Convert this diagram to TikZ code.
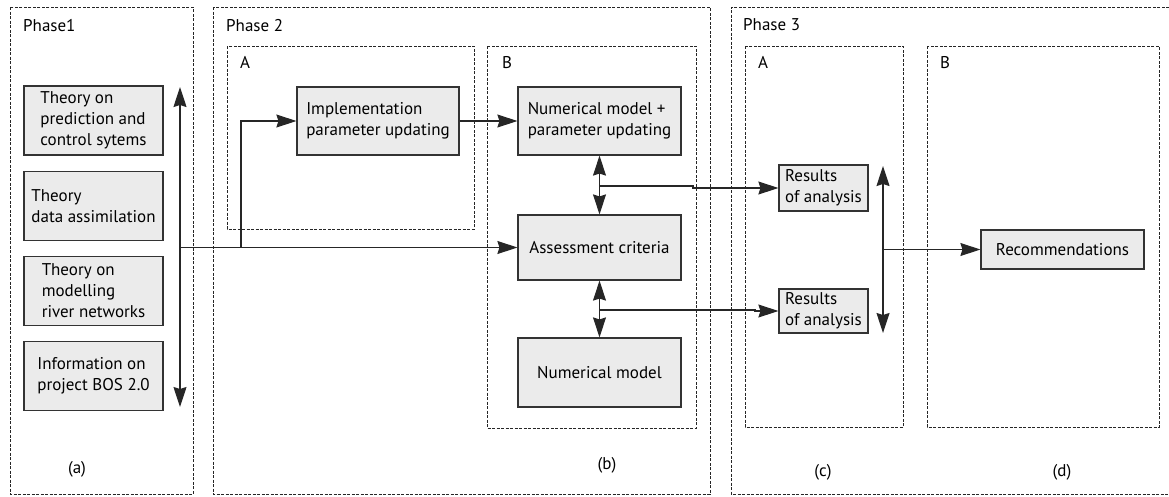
\documentclass[tikz,border=0pt]{standalone}
\usepackage{fontspec}
\setmainfont{PT Sans}
\usetikzlibrary{arrows.meta,positioning}
\tikzstyle{block}=[draw=black!80,fill=black!8,line width=1.2pt,inner sep=0pt,align=left,font=\fontsize{17}{21}\selectfont]
\tikzstyle{frame}=[draw=black!85,line width=0.8pt,dash pattern=on 3pt off 1.5pt]
\tikzstyle{link}=[draw=black!85,line width=1.1pt,-{Stealth[length=20pt,width=13pt,inset=2pt]}]
\tikzstyle{both}=[link,{Stealth[length=20pt,width=13pt,inset=2pt]}-{Stealth[length=20pt,width=13pt,inset=2pt]}]
\tikzstyle{tag}=[anchor=base west,inner sep=0pt,font=\fontsize{17}{20}\selectfont]
\tikzstyle{sub}=[inner sep=0pt,font=\fontsize{17}{20}\selectfont]

\begin{document}
\begin{tikzpicture}[x=1pt,y=-1pt]
\useasboundingbox (0,0) rectangle (1169,496);
% dashed frames
\draw[frame] (10,7) rectangle (193,494);
\draw[frame] (213,7) rectangle (710,494);
\draw[frame] (1169,7) -| (731,494) -- (1169,494);
\draw[frame] (227,46) rectangle (474,229);
\draw[frame] (487,46) rectangle (696,428);
\draw[frame] (745,46) rectangle (903,427);
\draw[frame] (927,46) rectangle (1159,427);
\node[tag] (ph1) at (23,31) {Phase1};
\node[tag] (ph2) at (226,31) {Phase 2};
\node[tag] (ph3) at (743,30) {Phase 3};
\node[tag] (ph2a) at (240,68) {A};
\node[tag] (ph2b) at (502,68) {B};
\node[tag] (ph3a) at (758,68) {A};
\node[tag] (ph3b) at (940,68) {B};
\node[sub] (la) at (77,469) {(a)};
\node[sub] (lb) at (607,465) {(b)};
\node[sub] (lc) at (823,472) {(c)};
\node[sub] (ld) at (1062,472) {(d)};

% phase 1
\node[block,minimum width=139pt,minimum height=69pt] (pred) at (93.5,120.5) {Theory on\\prediction and\\control sytems};
\node[block,minimum width=139pt,minimum height=69pt,below=15pt of pred] (assim) {Theory\\data assimilation};
\node[block,minimum width=139pt,minimum height=69pt,below=15pt of assim] (river) {Theory on\\modelling\\river networks};
\node[block,minimum width=139pt,minimum height=69pt,below=15pt of river] (bos) {Information on\\project BOS 2.0};
\coordinate (top1) at (180,87);
\coordinate (bot1) at (180,407);
\coordinate (hub1) at (180,247.5);
\coordinate (split) at (241,247.5);
\draw[both] (top1) -- (bot1);

% phase 2
\node[block,minimum width=162pt,minimum height=68pt] (impl) at (378,121) {Implementation\\parameter updating};
\node[block,minimum width=163pt,minimum height=68pt] (numup) at (599.5,121) {Numerical model +\\parameter updating};
\node[block,minimum width=163pt,minimum height=65pt] (crit) at (599.5,247.5) {Assessment criteria};
\node[block,minimum width=163pt,minimum height=69pt] (num) at (599.5,372.5) {Numerical model};
\draw[link] (hub1) -- (crit);
\draw[link] (split) |- (impl);
\draw[link] (impl) -- (numup);
\draw[both] (numup) -- (crit);
\draw[both] (crit) -- (num);
\coordinate (t1) at (600,186);
\coordinate (t2) at (600,310);

% phase 3
\node[block,minimum width=89pt,minimum height=46pt] (res1) at (823.5,188) {Results\\of analysis};
\node[block,minimum width=89pt,minimum height=44pt] (res2) at (823.5,311) {Results\\of analysis};
\node[block,minimum width=163pt,minimum height=39pt] (rec) at (1062.5,249.5) {Recommendations};
\draw[link] (t1) -- ++(93,0) |- (res1);
\draw[link] (t2) -- ++(155,0) |- (res2);
\coordinate (top3) at (883,166);
\coordinate (bot3) at (883,333);
\coordinate (hub3) at (883,249.5);
\draw[both] (top3) -- (bot3);
\draw[link] (hub3) -- (rec);
\end{tikzpicture}
\end{document}
